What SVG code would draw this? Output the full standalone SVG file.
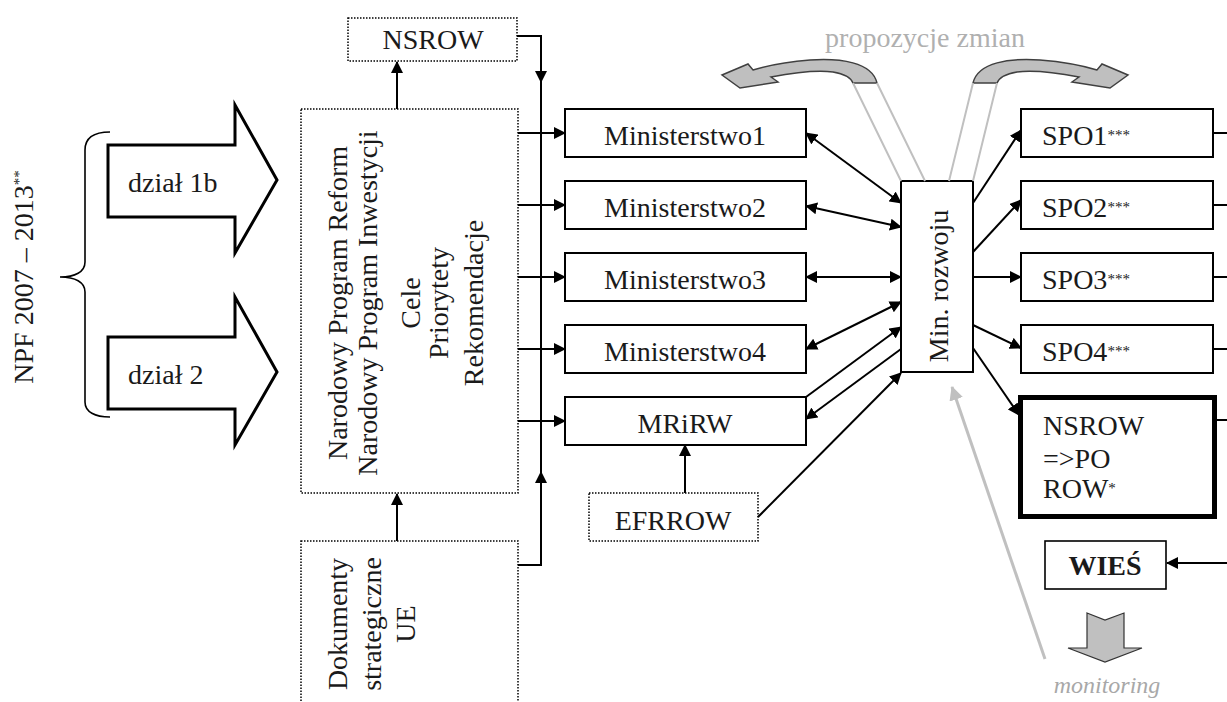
<svg xmlns="http://www.w3.org/2000/svg" width="1227" height="702" viewBox="0 0 1227 702" font-family="'Liberation Serif', 'DejaVu Serif', serif">
<style>
text{font-family:'Liberation Serif', 'DejaVu Serif', serif;font-size:28px;fill:#1a1a1a}
.box{fill:#fff;stroke:#000;stroke-width:2}
.dot{fill:#fff;stroke:#000;stroke-width:1.5;stroke-dasharray:1.5 1.5}
.ln{fill:none;stroke:#000;stroke-width:2}
.gl{fill:none;stroke:#c0c0c0;stroke-width:2}
.c{text-anchor:middle}
.sup{font-size:15px}
</style>
<defs>
<marker id="ah" viewBox="0 0 12 12" refX="11" refY="6" markerWidth="12" markerHeight="12" markerUnits="userSpaceOnUse" orient="auto-start-reverse"><path d="M0,0 L12,6 L0,12 Z" fill="#000"/></marker>
<marker id="gah" viewBox="0 0 14 14" refX="13" refY="7" markerWidth="14" markerHeight="14" markerUnits="userSpaceOnUse" orient="auto"><path d="M0,0 L14,7 L0,14 Z" fill="#c0c0c0"/></marker>
</defs>
<rect width="1227" height="702" fill="#fff"/>

<g id="npf">
<text class="c" transform="translate(33,277) rotate(-90)">NPF 2007 – 2013<tspan class="sup" dy="-9">**</tspan></text>
<path class="ln" style="stroke-width:1.6" d="M110,132 C95,132 85,137 85,150 L85,262 C85,272 75,277 60,277 C75,277 85,282 85,292 L85,402 C85,412 95,417 110,417"/>
</g>

<g id="dzial1b">
<path d="M108,145 L235,145 L235,105 L277,180 L235,253 L235,217 L108,217 Z" fill="#fff" stroke="#000" stroke-width="3"/>
<text x="128" y="192">dział 1b</text>
</g>
<g id="dzial2">
<path d="M108,337 L235,337 L235,297 L277,372 L235,445 L235,409 L108,409 Z" fill="#fff" stroke="#000" stroke-width="3"/>
<text x="128" y="384">dział 2</text>
</g>

<g id="nsrow-top">
<rect class="dot" x="348" y="18" width="169" height="43"/>
<text class="c" x="433" y="49">NSROW</text>
</g>

<g id="npr">
<rect class="dot" x="301" y="109" width="217" height="384"/>
<g class="c">
<text transform="rotate(-90)" x="-303" y="347">Narodowy Program Reform</text>
<text transform="rotate(-90)" x="-303" y="377">Narodowy Program Inwestycji</text>
<text transform="rotate(-90)" x="-303" y="420">Cele</text>
<text transform="rotate(-90)" x="-303" y="448">Priorytety</text>
<text transform="rotate(-90)" x="-303" y="483">Rekomendacje</text>
</g>
</g>

<g id="dokumenty">
<rect class="dot" x="301" y="541" width="217" height="175"/>
<g class="c">
<text transform="rotate(-90)" x="-624" y="347">Dokumenty</text>
<text transform="rotate(-90)" x="-624" y="381">strategiczne</text>
<text transform="rotate(-90)" x="-624" y="415">UE</text>
</g>
</g>

<g id="ministerstwo1"><rect class="box" x="565" y="109" width="241" height="48"/><text class="c" x="685" y="145">Ministerstwo1</text></g>
<g id="ministerstwo2"><rect class="box" x="565" y="181" width="241" height="48"/><text class="c" x="685" y="217">Ministerstwo2</text></g>
<g id="ministerstwo3"><rect class="box" x="565" y="253" width="241" height="48"/><text class="c" x="685" y="289">Ministerstwo3</text></g>
<g id="ministerstwo4"><rect class="box" x="565" y="325" width="241" height="48"/><text class="c" x="685" y="361">Ministerstwo4</text></g>
<g id="mrirw"><rect class="box" x="565" y="397" width="241" height="48"/><text class="c" x="685" y="433">MRiRW</text></g>

<g id="efrrow">
<rect class="dot" x="589" y="493" width="169" height="48"/>
<text class="c" x="673" y="530">EFRROW</text>
</g>

<g id="minrozwoju">
<rect class="box" x="901" y="181" width="72" height="191"/>
<text class="c" transform="rotate(-90)" x="-286" y="948">Min. rozwoju</text>
</g>

<g id="spo1"><rect class="box" x="1021" y="109" width="192" height="48"/><text x="1042" y="145">SPO1<tspan class="sup" dy="-5">***</tspan></text></g>
<g id="spo2"><rect class="box" x="1021" y="181" width="192" height="48"/><text x="1042" y="217">SPO2<tspan class="sup" dy="-5">***</tspan></text></g>
<g id="spo3"><rect class="box" x="1021" y="253" width="192" height="48"/><text x="1042" y="289">SPO3<tspan class="sup" dy="-5">***</tspan></text></g>
<g id="spo4"><rect class="box" x="1021" y="325" width="192" height="48"/><text x="1042" y="361">SPO4<tspan class="sup" dy="-5">***</tspan></text></g>

<g id="nsrow-porow">
<rect x="1020.5" y="397.5" width="194" height="119" fill="#fff" stroke="#000" stroke-width="5"/>
<text x="1043" y="435">NSROW</text>
<text x="1043" y="468">=&gt;PO</text>
<text x="1043" y="498">ROW<tspan class="sup" dy="-5">*</tspan></text>
</g>

<g id="wies">
<rect class="box" x="1045" y="541" width="121" height="48" style="stroke-width:1.6"/>
<text class="c" x="1105" y="575" font-weight="bold">WIEŚ</text>
</g>

<g id="monitoring">
<path d="M1087,613 L1105,620 L1124,613 L1124,648 L1142,648 L1105,662 L1068,648 L1087,648 Z" fill="#c0c0c0" stroke="#333" stroke-width="1.2"/>
<text class="c" x="1107" y="693" font-style="italic" style="fill:#a8a8a8;font-size:24px">monitoring</text>
</g>

<g id="propozycje">
<text class="c" x="925" y="47" style="fill:#b0b0b0">propozycje zmian</text>
<path d="M877,83 C872,62 840,58 810,60 C785,62 766,66 753,70 L748,64 L722,75 L740,88 L778,82 L771,77 C792,73 815,70 833,72 C845,74 851,78 853,83 Z" fill="#bfbfbf" stroke="#404040" stroke-width="1.5"/>
<path d="M877,83 C872,62 840,58 810,60 C785,62 766,66 753,70 L748,64 L722,75 L740,88 L778,82 L771,77 C792,73 815,70 833,72 C845,74 851,78 853,83 Z" transform="translate(1850,0) scale(-1,1)" fill="#bfbfbf" stroke="#404040" stroke-width="1.5"/>
</g>

<g id="connectors">
<path class="ln" d="M397,109 L397,62" marker-end="url(#ah)"/>
<path class="ln" d="M397,541 L397,494" marker-end="url(#ah)"/>
<path class="ln" d="M517,36 L541,36 L541,82" marker-end="url(#ah)"/>
<path class="ln" d="M541,82 L541,565"/>
<path class="ln" d="M518,565 L541,565 L541,472" marker-end="url(#ah)"/>
<path class="ln" d="M518,133 L565,133" marker-end="url(#ah)"/>
<path class="ln" d="M518,205 L565,205" marker-end="url(#ah)"/>
<path class="ln" d="M518,277 L565,277" marker-end="url(#ah)"/>
<path class="ln" d="M518,349 L565,349" marker-end="url(#ah)"/>
<path class="ln" d="M518,421 L565,421" marker-end="url(#ah)"/>
<path class="ln" d="M806,133 L901,203" marker-start="url(#ah)" marker-end="url(#ah)"/>
<path class="ln" d="M806,206 L901,227" marker-start="url(#ah)" marker-end="url(#ah)"/>
<path class="ln" d="M806,277 L901,277" marker-start="url(#ah)" marker-end="url(#ah)"/>
<path class="ln" d="M806,349 L901,302" marker-start="url(#ah)" marker-end="url(#ah)"/>
<path class="ln" d="M806,397 L901,327" marker-end="url(#ah)"/>
<path class="ln" d="M901,349 L806,419" marker-end="url(#ah)"/>
<path class="ln" d="M758,517 L901,373" marker-end="url(#ah)"/>
<path class="ln" d="M685,493 L685,445" marker-end="url(#ah)"/>
<path class="ln" d="M973,203 L1021,130" marker-end="url(#ah)"/>
<path class="ln" d="M973,252 L1021,200" marker-end="url(#ah)"/>
<path class="ln" d="M973,277 L1021,277" marker-end="url(#ah)"/>
<path class="ln" d="M973,325 L1021,348" marker-end="url(#ah)"/>
<path class="ln" d="M973,348 L1019,415" marker-end="url(#ah)"/>
<path class="ln" d="M1213,133 L1227,133 M1213,205 L1227,205 M1213,277 L1227,277 M1213,349 L1227,349 M1217,420 L1227,420"/>
<path class="ln" d="M1227,563 L1167,563" marker-end="url(#ah)"/>
<path class="gl" d="M853,83 L901,181 M877,83 L925,181 M973,83 L949,181 M997,83 L973,181"/>
<path class="gl" style="stroke-width:3" d="M1045,659 L952,387" marker-end="url(#gah)"/>
</g>
</svg>
